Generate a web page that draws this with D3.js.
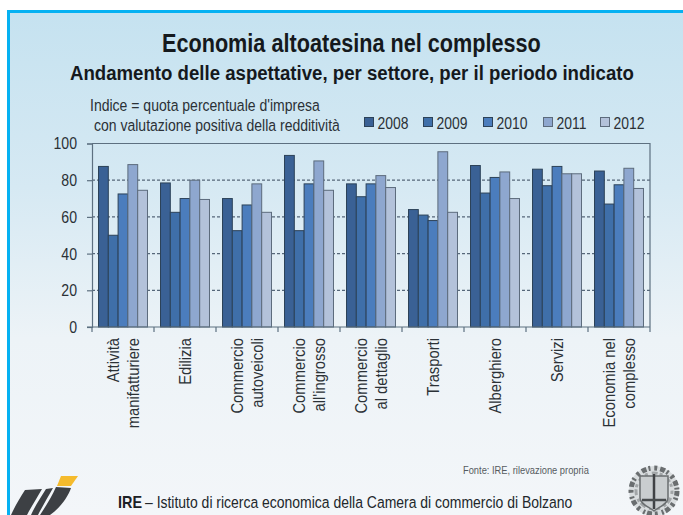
<!DOCTYPE html>
<html lang="it">
<head>
<meta charset="utf-8">
<title>Economia altoatesina nel complesso</title>
<script src="https://cdn.jsdelivr.net/npm/d3@7/dist/d3.min.js"></script>
<style>
  html, body { margin: 0; padding: 0; background: #fff; }
  svg { display: block; font-family: "Liberation Sans", Arial, sans-serif; }
</style>
</head>
<body>
<svg id="chart" width="683" height="515"></svg>
<script>
const sectors = [
  ["Attività", "manifatturiere"],
  ["Edilizia"],
  ["Commercio", "autoveicoli"],
  ["Commercio", "all'ingrosso"],
  ["Commercio", "al dettaglio"],
  ["Trasporti"],
  ["Alberghiero"],
  ["Servizi"],
  ["Economia nel", "complesso"]
];
const years = ["2008", "2009", "2010", "2011", "2012"];
const values2008 = [87.5, 78.5, 70, 93.5, 78, 64, 88, 86, 85];
const values2009 = [50, 62.5, 52.5, 52.5, 71, 61, 73, 77, 67];
const values2010 = [72.5, 70, 66.5, 78, 78, 58, 81.5, 87.5, 77.5];
const values2011 = [88.5, 80, 78, 90.5, 82.5, 95.5, 84.5, 83.5, 86.5];
const values2012 = [74.5, 69.5, 62.5, 74.5, 76, 62.5, 70, 83.5, 75.5];
const yTicks = [0, 20, 40, 60, 80, 100];
const yearColors = ["#3a6195", "#3f6fa9", "#4b7dbd", "#8ea7cf", "#b3c2da"];

const series = [values2008, values2009, values2010, values2011, values2012];
const sectorKeys = sectors.map(s => s.join(" "));

const svg = d3.select("#chart");
const ink = "#15191d";
const labelInk = "#2b3136";
const axisInk = "#5d7080";

// Panel: white margin, cyan rule on top and left, pale blue wash fading downwards
const defs = svg.append("defs");
const wash = defs.append("linearGradient").attr("id", "wash")
  .attr("x1", 0).attr("y1", 0).attr("x2", 0).attr("y2", 1);
wash.append("stop").attr("offset", "0%").attr("stop-color", "#c5e2f0");
wash.append("stop").attr("offset", "35%").attr("stop-color", "#d6e9f3");
wash.append("stop").attr("offset", "65%").attr("stop-color", "#edf3f7");
wash.append("stop").attr("offset", "100%").attr("stop-color", "#f3f6f9");
defs.append("filter").attr("id", "soft").append("feGaussianBlur").attr("stdDeviation", 0.7);
svg.append("rect").attr("x", 8).attr("y", 11).attr("width", 675).attr("height", 504).attr("fill", "url(#wash)");
svg.append("rect").attr("x", 7).attr("y", 10).attr("width", 676).attr("height", 3).attr("fill", "#05b1f2");
svg.append("rect").attr("x", 7).attr("y", 10).attr("width", 3).attr("height", 505).attr("fill", "#05b1f2");

// Text scaled horizontally to a given width, as the headline and notes are set narrow
function fitted(x, y, str, size, width, opts = {}) {
  const t = svg.append("text")
    .attr("font-size", size)
    .attr("font-weight", opts.weight || "normal")
    .attr("fill", opts.fill || ink)
    .text(str);
  const natural = t.node().getComputedTextLength();
  t.attr("transform", `translate(${x},${y}) scale(${width / natural},1)`);
  return t;
}

fitted(162, 52, "Economia altoatesina nel complesso", 25.5, 379, { weight: "bold" });
fitted(70, 80, "Andamento delle aspettative, per settore, per il periodo indicato", 20.5, 564, { weight: "bold" });
fitted(90, 111, "Indice = quota percentuale d'impresa", 16.5, 230, { fill: labelInk });
fitted(94, 131, "con valutazione positiva della redditività", 16.5, 246, { fill: labelInk });

// Scales
const x = d3.scaleBand().domain(sectorKeys).range([92, 650]).paddingInner(0.21).paddingOuter(0.105);
const xYear = d3.scaleBand().domain(years).range([0, x.bandwidth()]);
const y = d3.scaleLinear().domain([0, 100]).range([327, 143.5]);

// Dotted gridlines sit behind the bars
svg.append("g").selectAll("line").data(yTicks.filter(t => t > 0 && t < 100)).join("line")
  .attr("x1", 92).attr("x2", 650)
  .attr("y1", d => y(d)).attr("y2", d => y(d))
  .attr("stroke", "#56677a").attr("stroke-width", 1.2).attr("stroke-dasharray", "3 2");

// Bars
const groups = svg.append("g").selectAll("g").data(years).join("g")
  .attr("fill", (d, i) => yearColors[i]);
groups.each(function (year, i) {
  d3.select(this).selectAll("rect").data(series[i]).join("rect")
    .attr("x", (d, j) => x(sectorKeys[j]) + xYear(year))
    .attr("width", xYear.bandwidth())
    .attr("y", d => y(d))
    .attr("height", d => y(0) - y(d))
    .attr("stroke", i < 3 ? "#2c4258" : "#5c6b7c")
    .attr("stroke-width", 1);
});

// Frame on the top and right of the plot
svg.append("path")
  .attr("d", d3.line()([[92, y(100)], [650, y(100)], [650, y(0)]]))
  .attr("fill", "none").attr("stroke", axisInk).attr("stroke-width", 1.2);

// Value axis, with its numbers narrowed about their right edge
const tickNarrow = 0.83;
const tickRight = -15;
const yAxis = svg.append("g").attr("transform", "translate(92,0)")
  .call(d3.axisLeft(y).tickValues(yTicks).tickSize(5).tickPadding(10));
yAxis.select(".domain").attr("stroke", axisInk).attr("stroke-width", 1.2);
yAxis.selectAll(".tick line").attr("stroke", axisInk).attr("stroke-width", 1.2);
yAxis.selectAll(".tick text")
  .attr("font-family", "inherit").attr("font-size", 17).attr("fill", labelInk)
  .attr("transform", `translate(${tickRight - tickRight * tickNarrow},0) scale(${tickNarrow},1)`);

// Category axis: ticks fall on the group boundaries
const boundaries = d3.range(sectors.length + 1).map(i => 92 + i * x.step());
const xAxisG = svg.append("g");
xAxisG.append("line").attr("x1", 87).attr("x2", 650).attr("y1", y(0)).attr("y2", y(0))
  .attr("stroke", axisInk).attr("stroke-width", 1.2);
xAxisG.selectAll("line.boundary").data(boundaries).join("line").attr("class", "boundary")
  .attr("x1", d => d).attr("x2", d => d).attr("y1", y(0)).attr("y2", y(0) + 5)
  .attr("stroke", axisInk).attr("stroke-width", 1.2);

// Rotated sector names, one or two lines, reading upwards and hanging under the axis
const labelGap = 20;
sectors.forEach((lines, i) => {
  const cx = x(sectorKeys[i]) + x.bandwidth() / 2;
  lines.forEach((line, k) => {
    const offset = (k - (lines.length - 1) / 2) * labelGap;
    svg.append("text")
      .attr("transform", `translate(${cx + offset + 6},338) rotate(-90) scale(0.87,1)`)
      .attr("text-anchor", "end")
      .attr("font-size", 17)
      .attr("fill", labelInk)
      .text(line);
  });
});

// Legend
const legendSwatch = [364, 423, 483, 543, 600];
const legend = svg.append("g").selectAll("g").data(years).join("g")
  .attr("transform", (d, i) => `translate(${legendSwatch[i]},0)`);
legend.append("rect")
  .attr("x", 0.5).attr("y", 117.5).attr("width", 9).attr("height", 9)
  .attr("fill", (d, i) => yearColors[i])
  .attr("stroke", (d, i) => i < 3 ? "#2c4258" : "#5c6b7c");
legend.append("text")
  .attr("transform", "translate(13.5,128.5) scale(0.82,1)")
  .attr("font-size", 17).attr("fill", labelInk)
  .text(d => d);

// Source note and footer
fitted(463, 474, "Fonte: IRE, rilevazione propria", 11, 126, { fill: "#555b60" });
fitted(118, 508, "IRE", 16.5, 24, { weight: "bold", fill: "#1c2125" });
fitted(145, 508, "– Istituto di ricerca economica della Camera di commercio di Bolzano", 16.5, 428, { fill: "#22272b" });

// IRE logo: three slanted dark blades and a yellow tab
const logo = svg.append("g");
logo.append("path").attr("d", "M61,476 L78,476 L71,486 L57,486 Z").attr("fill", "#f5bb2d");
logo.append("path").attr("d", "M25,490 L42,489 C37,498 31,507 27,515 L11,515 C15,506 20,498 25,490 Z").attr("fill", "#3d4044");
logo.append("path").attr("d", "M46,489 L53,488 C48,497 42,507 38,515 L31,515 C35,506 41,497 46,489 Z").attr("fill", "#3d4044");
logo.append("path").attr("d", "M56,487 L71,488 C68,497 60,508 50,515 L40,515 C46,506 52,496 56,487 Z").attr("fill", "#3d4044");

// Chamber of commerce crest, a grey wreath around a shield, slightly soft as a small print
const crest = svg.append("g").attr("transform", "translate(654,491)").attr("filter", "url(#soft)");
crest.append("circle").attr("r", 25).attr("fill", "#d9dddf");
crest.append("circle").attr("r", 23).attr("fill", "none")
  .attr("stroke", "#6a6e70").attr("stroke-width", 5).attr("stroke-dasharray", "5 2 2 4 3 3");
crest.append("circle").attr("r", 18).attr("fill", "none")
  .attr("stroke", "#a2a6a8").attr("stroke-width", 3).attr("stroke-dasharray", "3 4 6 2");
crest.append("path").attr("d", "M-14,-15 L14,-15 L14,7 C14,13 5,16 0,20 C-5,16 -14,13 -14,7 Z")
  .attr("fill", "#c9cdcf").attr("stroke", "#6a6e70").attr("stroke-width", 1.5);
crest.append("line").attr("x1", 0).attr("x2", 0).attr("y1", -17).attr("y2", 18)
  .attr("stroke", "#3f4345").attr("stroke-width", 2.5);
crest.append("path").attr("d", "M-12,9 L12,9").attr("stroke", "#4a4e50").attr("stroke-width", 2.5);
</script>
</body>
</html>
